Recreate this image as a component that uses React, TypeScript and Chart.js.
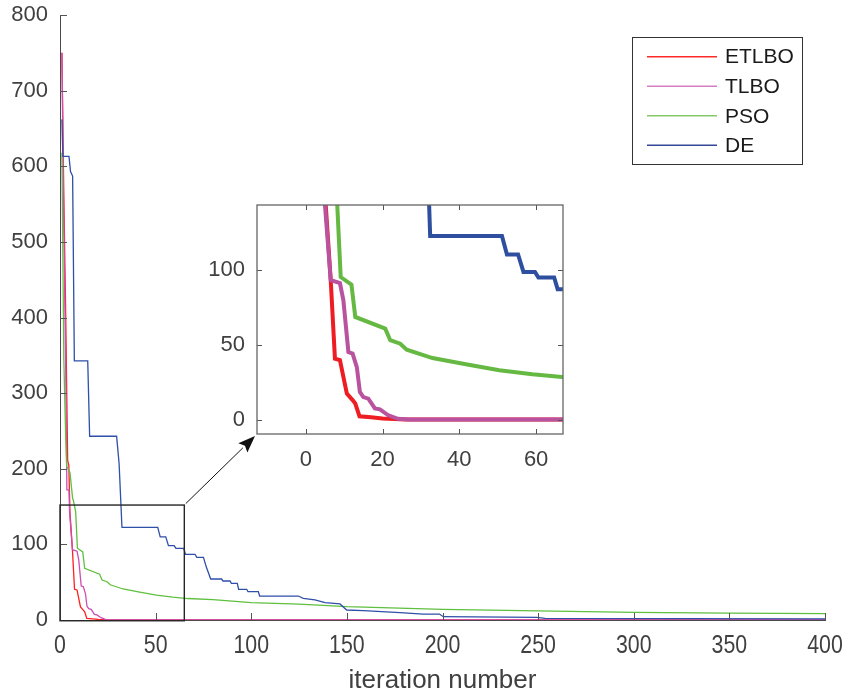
import React, { useEffect, useRef } from "react";
import { Chart, registerables } from "chart.js";

Chart.register(...registerables);

// ---------------- data ----------------
const seriesNames = ["ETLBO", "TLBO", "PSO", "DE"];

const etlboIter = [1, 2, 3, 4, 4.6, 5.2, 6.5, 7.6, 8.9, 10.7, 12.2, 12.9, 14, 17, 20, 26, 400];
const etlboCost = [750, 560, 400, 211, 205, 143, 93, 40.6, 39.7, 17.3, 13, 10.7, 2.2, 1.5, 0.8, 0, 0];

const tlboIter = [1, 2, 3, 3.6, 4.7, 5.0, 6.5, 8.9, 9.8, 11.1, 12.2, 13.3, 14.1, 15, 16.3, 18, 19.3, 21.4, 24, 27, 400];
const tlboCost = [750, 520, 330, 172, 172, 143, 93, 91, 79.5, 45, 44, 35, 18.4, 15, 14, 7.5, 6.8, 3, 0.5, 0, 0];

const psoIter = [1, 2, 3, 3.5, 4.2, 5.2, 6.6, 7.0, 8.2, 9.1, 11.9, 12.9, 20.7, 22, 24.6, 26.3, 33, 41.7, 50.4, 59, 66.7, 80, 100, 125, 150, 200, 250, 300, 350, 400];
const psoCost = [618, 345, 240, 203, 200, 195, 161, 158, 143, 95, 90, 68.4, 60.6, 52.9, 50.6, 46.6, 41, 36.9, 32.9, 30.2, 28.4, 27, 23, 21, 17.6, 14, 12, 10, 9, 8.4];

const deIter = [1, 1.5, 4.7, 5.5, 6.6, 7.5, 14.5, 15.5, 29.6, 30.9, 31.3, 32.4, 51.1, 52.4, 55.3, 56.7, 59.7, 60.6, 64.7, 65.6, 70.6, 71.5, 75, 76.5, 78.8, 84.5, 85.2, 88.9, 89.6, 92.7, 93.4, 97.6, 98.3, 103.7, 104.4, 124.6, 127.2, 133.3, 138.6, 146.4, 149.9, 158.6, 177.8, 189.8, 198.4, 200.4, 249.3, 253.6, 400];
const deCost = [662, 613, 613, 593, 587, 342.6, 342.6, 243, 243, 207, 207, 122.4, 122.4, 110, 110, 98.4, 98.4, 94.7, 94.7, 86.9, 86.9, 82.9, 82.9, 70, 54.2, 54.2, 51.6, 51.6, 48.5, 48.5, 40.6, 40.6, 37.5, 37.5, 31.7, 31.7, 28.7, 26.5, 22.9, 21.2, 13.2, 12.3, 9.7, 7.9, 7.9, 4.4, 3.5, 2.2, 1.4];

const mainXTicks = [0, 50, 100, 150, 200, 250, 300, 350, 400];
const mainYTicks = [0, 100, 200, 300, 400, 500, 600, 700, 800];
const insetXTicks = [0, 20, 40, 60];
const insetYTicks = [0, 50, 100];

const xAxisTitle = "iteration number";

// zoom window marked on the main plot
const zoomBoxX = [0, 65];
const zoomBoxY = [-1, 152];

// ---------------- styles ----------------
const mainColors = ["#ff1f1f", "#cc4fb5", "#5fbf3f", "#2f4fa8"];
const insetColors = ["#ee1d24", "#b9529f", "#65b943", "#2e4f9f"];
const legendColors = ["#ff2a2a", "#d47fc4", "#86c96a", "#34489a"];
const FONT = "'Liberation Sans', Arial, Helvetica, sans-serif";

const seriesIter = [etlboIter, tlboIter, psoIter, deIter];
const seriesCost = [etlboCost, tlboCost, psoCost, deCost];

function points(xs: number[], ys: number[]) {
  return xs.map((x, i) => ({ x, y: ys[i] }));
}

function datasets(colors: string[], width: number, clip?: number) {
  return seriesNames.map((name, i) => {
    const ds: any = {
      label: name,
      data: points(seriesIter[i], seriesCost[i]),
      borderColor: colors[i],
      backgroundColor: colors[i],
      borderWidth: width,
      pointRadius: 0,
      tension: 0,
      fill: false,
      order: 4 - i,
    };
    if (clip !== undefined) ds.clip = clip;
    return ds;
  });
}

function inwardTicks(id: string, len: number, box: boolean, color: string) {
  return {
    id,
    afterDatasetsDraw(chart: any) {
      const { ctx, chartArea: a, scales } = chart;
      ctx.save();
      ctx.strokeStyle = color;
      ctx.lineWidth = 1;
      ctx.beginPath();
      for (const t of scales.x.ticks) {
        const px = Math.round(scales.x.getPixelForValue(t.value)) + 0.5;
        ctx.moveTo(px, a.bottom);
        ctx.lineTo(px, a.bottom - len);
        if (box) {
          ctx.moveTo(px, a.top);
          ctx.lineTo(px, a.top + len);
        }
      }
      for (const t of scales.y.ticks) {
        const py = Math.round(scales.y.getPixelForValue(t.value)) + 0.5;
        ctx.moveTo(a.left, py);
        ctx.lineTo(a.left + len, py);
        if (box) {
          ctx.moveTo(a.right, py);
          ctx.lineTo(a.right - len, py);
        }
      }
      ctx.stroke();
      if (box) {
        ctx.strokeStyle = "#666666";
        ctx.lineWidth = 1.3;
        ctx.strokeRect(a.left, a.top, a.right - a.left, a.bottom - a.top);
      }
      ctx.restore();
    },
  };
}

const noPadY = (w: number) => (s: any) => {
  s.width = w;
  s.paddingTop = 0;
  s.paddingBottom = 0;
};
const noPadX = (h: number) => (s: any) => {
  s.height = h;
  s.paddingLeft = 0;
  s.paddingRight = 0;
};

const INSET_LEFT = 195;
const INSET_TOP = 190;
const INSET_W = 390;
const INSET_H = 290;

export default function App() {
  const mainRef = useRef<HTMLCanvasElement>(null);
  const insetRef = useRef<HTMLCanvasElement>(null);

  useEffect(() => {
    document.body.style.margin = "0";

    const inset = new Chart(insetRef.current as HTMLCanvasElement, {
      type: "line",
      data: { datasets: datasets(insetColors, 4, 0) },
      options: {
        responsive: false,
        animation: false,
        devicePixelRatio: 1,
        layout: { padding: { top: 15, right: 22, left: 0, bottom: 0 } },
        plugins: { legend: { display: false }, tooltip: { enabled: false } },
        scales: {
          x: {
            type: "linear",
            min: -12.7,
            max: 67,
            grid: { display: false, drawTicks: false },
            border: { display: false },
            afterBuildTicks: (s: any) => {
              s.ticks = insetXTicks.map((v) => ({ value: v }));
            },
            afterFit: noPadX(46),
            ticks: { padding: 13, color: "#404040", font: { size: 22, family: FONT }, maxRotation: 0 },
          },
          y: {
            type: "linear",
            min: -9.6,
            max: 143,
            grid: { display: false, drawTicks: false },
            border: { display: false },
            afterBuildTicks: (s: any) => {
              s.ticks = insetYTicks.map((v) => ({ value: v }));
            },
            afterFit: noPadY(62),
            ticks: { padding: 12, color: "#404040", font: { size: 22, family: FONT } },
          },
        },
      } as any,
      plugins: [inwardTicks("insetTicks", 5, true, "#555555")],
    });

    const ia = inset.chartArea;
    const tip = { x: INSET_LEFT + ia.left - 2, y: INSET_TOP + ia.bottom + 2 };

    const overlay = {
      id: "overlay",
      afterDraw(chart: any) {
        const { ctx, scales, chartArea } = chart;
        ctx.save();
        // x tick labels (narrow Helvetica look)
        ctx.fillStyle = "#404040";
        ctx.font = `26px ${FONT}`;
        ctx.textAlign = "center";
        ctx.textBaseline = "middle";
        for (const v of mainXTicks) {
          const px = scales.x.getPixelForValue(v);
          ctx.save();
          ctx.translate(px, chartArea.bottom + 26);
          ctx.scale(0.82, 1);
          ctx.fillText(String(v), 0, 0);
          ctx.restore();
        }
        const x0 = scales.x.getPixelForValue(zoomBoxX[0]);
        const x1 = scales.x.getPixelForValue(zoomBoxX[1]);
        const y0 = scales.y.getPixelForValue(zoomBoxY[0]);
        const y1 = scales.y.getPixelForValue(zoomBoxY[1]);
        // zoom rectangle
        ctx.strokeStyle = "#262626";
        ctx.lineWidth = 1.4;
        ctx.strokeRect(x0, y1, x1 - x0, y0 - y1);
        // arrow
        const sx = x1 + 1.5;
        const sy = y1 - 1.5;
        const ang = Math.atan2(tip.y - sy, tip.x - sx);
        const head = 17;
        const hw = 6.5;
        const bx = tip.x - head * Math.cos(ang);
        const by = tip.y - head * Math.sin(ang);
        ctx.strokeStyle = "#111111";
        ctx.lineWidth = 1;
        ctx.beginPath();
        ctx.moveTo(sx, sy);
        ctx.lineTo(bx, by);
        ctx.stroke();
        ctx.fillStyle = "#111111";
        ctx.beginPath();
        ctx.moveTo(tip.x, tip.y);
        ctx.lineTo(bx + hw * Math.sin(ang), by - hw * Math.cos(ang));
        ctx.lineTo(bx + 3 * Math.cos(ang), by + 3 * Math.sin(ang));
        ctx.lineTo(bx - hw * Math.sin(ang), by + hw * Math.cos(ang));
        ctx.closePath();
        ctx.fill();
        // legend
        const lx = 632, ly = 37, lw = 170, lh = 127;
        ctx.fillStyle = "#ffffff";
        ctx.fillRect(lx, ly, lw, lh);
        ctx.strokeStyle = "#333333";
        ctx.lineWidth = 1;
        ctx.strokeRect(lx + 0.5, ly + 0.5, lw, lh);
        const rows = [56.7, 86.2, 115.8, 145.3];
        ctx.font = `21px ${FONT}`;
        ctx.textBaseline = "middle";
        ctx.textAlign = "left";
        seriesNames.forEach((name, i) => {
          ctx.strokeStyle = legendColors[i];
          ctx.lineWidth = 1.4;
          ctx.beginPath();
          ctx.moveTo(647, rows[i]);
          ctx.lineTo(717, rows[i]);
          ctx.stroke();
          ctx.fillStyle = "#1a1a1a";
          ctx.fillText(name, 725, rows[i] + 1);
        });
        ctx.restore();
      },
    };

    const main = new Chart(mainRef.current as HTMLCanvasElement, {
      type: "line",
      data: { datasets: datasets(mainColors, 1.3) },
      options: {
        responsive: false,
        animation: false,
        devicePixelRatio: 1,
        layout: { padding: { top: 15, right: 20, left: 0, bottom: 0 } },
        plugins: { legend: { display: false }, tooltip: { enabled: false } },
        scales: {
          x: {
            type: "linear",
            min: 0,
            max: 400,
            grid: { display: false, drawTicks: false },
            border: { display: true, color: "#4a4a4a", width: 1 },
            afterBuildTicks: (s: any) => {
              s.ticks = mainXTicks.map((v) => ({ value: v }));
            },
            afterFit: noPadX(77),
            ticks: { display: false },
            title: {
              display: true,
              text: xAxisTitle,
              color: "#404040",
              font: { size: 26, family: FONT },
              padding: { top: 0, bottom: 1 },
            },
          },
          y: {
            type: "linear",
            min: 0,
            max: 800,
            grid: { display: false, drawTicks: false },
            border: { display: true, color: "#4a4a4a", width: 1 },
            afterBuildTicks: (s: any) => {
              s.ticks = mainYTicks.map((v) => ({ value: v }));
            },
            afterFit: noPadY(60),
            ticks: { padding: 12, color: "#404040", font: { size: 22, family: FONT } },
          },
        },
      } as any,
      plugins: [inwardTicks("mainTicks", 7, false, "#555555"), overlay],
    });

    return () => {
      main.destroy();
      inset.destroy();
    };
  }, []);

  return (
    <div style={{ position: "relative", width: 845, height: 697 }}>
      <canvas ref={mainRef} width={845} height={697} style={{ position: "absolute", left: 0, top: 0 }} />
      <canvas
        ref={insetRef}
        width={INSET_W}
        height={INSET_H}
        style={{ position: "absolute", left: INSET_LEFT, top: INSET_TOP }}
      />
    </div>
  );
}
